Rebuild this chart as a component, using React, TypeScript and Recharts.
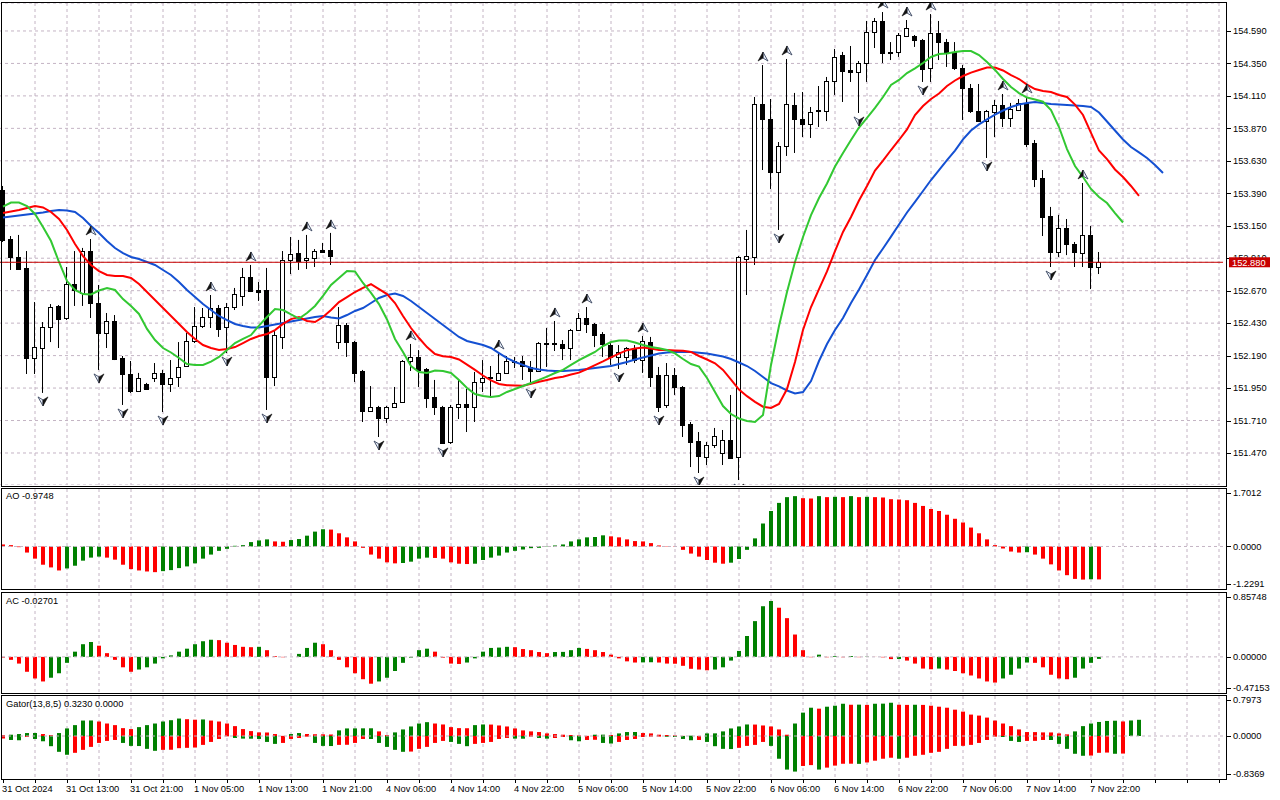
import React from 'react';
import { ComposedChart, Bar, Line, Scatter, XAxis, YAxis, CartesianGrid, ReferenceLine, Cell } from 'recharts';

// USDJPY H1 candles, 31 Oct 05:00 .. 7 Nov 23:00
const opens = [
  153.414, 153.052, 152.919, 152.838, 152.172, 152.246, 152.401, 152.557, 152.468, 152.719,
  152.653, 152.963, 152.579, 152.357, 152.446, 152.172, 152.054, 151.929, 151.980, 152.025,
  152.062, 151.980, 152.032, 152.113, 152.298, 152.409, 152.475, 152.542, 152.401, 152.549,
  152.631, 152.771, 152.675, 152.675, 152.032, 152.328, 152.897, 152.949, 152.897, 152.912,
  152.971, 152.971, 152.290, 152.416, 152.290, 152.076, 151.780, 151.810, 151.729, 151.810,
  151.847, 152.150, 152.180, 152.091, 151.884, 151.810, 151.551, 151.810, 151.832, 151.810,
  151.995, 152.025, 152.010, 152.062, 152.150, 152.150, 152.106, 152.076, 152.283, 152.283,
  152.276, 152.246, 152.379, 152.468, 152.424, 152.350, 152.268, 152.180, 152.180, 152.246,
  152.157, 152.290, 152.047, 151.825, 152.047, 151.958, 151.684, 151.559, 151.440, 151.529,
  151.470, 151.566, 151.440, 152.904, 152.919, 154.050, 153.939, 153.547, 153.739, 154.043,
  153.939, 153.902, 153.998, 153.998, 154.220, 154.412, 154.302, 154.287, 154.353, 154.582,
  154.664, 154.427, 154.435, 154.553, 154.553, 154.523, 154.316, 154.575, 154.508, 154.435,
  154.316, 154.168, 153.998, 153.924, 153.991, 154.043, 153.947, 154.006, 154.058, 153.762,
  153.503, 153.222, 152.956, 153.133, 153.015, 152.949, 153.082, 152.845,
];
const highs = [
  153.444, 153.074, 153.082, 152.963, 152.586, 152.438, 152.571, 152.564, 152.845, 152.963,
  152.986, 153.052, 152.712, 152.505, 152.490, 152.187, 152.150, 152.062, 151.988, 152.135,
  152.084, 152.157, 152.290, 152.357, 152.549, 152.542, 152.638, 152.564, 152.579, 152.690,
  152.838, 152.860, 152.734, 152.838, 152.372, 152.963, 153.067, 153.045, 153.082, 152.978,
  153.023, 153.097, 152.549, 152.431, 152.298, 152.084, 151.965, 151.818, 151.818, 151.958,
  152.157, 152.276, 152.231, 152.098, 152.010, 151.818, 151.825, 152.017, 151.943, 152.069,
  152.157, 152.113, 152.209, 152.187, 152.180, 152.187, 152.150, 152.290, 152.394, 152.446,
  152.305, 152.387, 152.505, 152.549, 152.431, 152.364, 152.290, 152.268, 152.253, 152.268,
  152.335, 152.328, 152.106, 152.135, 152.098, 151.965, 151.699, 151.625, 151.551, 151.655,
  151.640, 151.899, 152.926, 153.119, 154.102, 154.338, 154.087, 153.769, 154.383, 154.132,
  154.139, 154.028, 154.183, 154.250, 154.457, 154.435, 154.479, 154.368, 154.664, 154.686,
  154.730, 154.508, 154.575, 154.671, 154.560, 154.531, 154.715, 154.664, 154.531, 154.508,
  154.338, 154.198, 154.198, 154.006, 154.080, 154.124, 154.058, 154.087, 154.102, 153.784,
  153.562, 153.289, 153.230, 153.200, 153.030, 153.466, 153.148, 152.956,
];
const lows = [
  153.030, 152.823, 152.823, 152.054, 152.054, 151.914, 152.290, 152.246, 152.453, 152.557,
  152.557, 152.468, 152.084, 152.246, 152.157, 151.825, 151.914, 151.921, 151.936, 151.995,
  151.773, 151.921, 151.958, 152.106, 152.283, 152.394, 152.394, 152.328, 152.209, 152.527,
  152.557, 152.660, 152.594, 151.788, 151.965, 152.239, 152.793, 152.823, 152.830, 152.845,
  152.949, 152.860, 152.239, 152.180, 151.995, 151.699, 151.773, 151.588, 151.692, 151.803,
  151.840, 152.076, 151.958, 151.803, 151.751, 151.537, 151.537, 151.721, 151.625, 151.699,
  151.921, 151.877, 152.002, 152.054, 152.098, 152.010, 151.973, 152.069, 152.106, 152.224,
  152.157, 152.157, 152.372, 152.357, 152.253, 152.180, 152.121, 152.091, 152.121, 152.135,
  152.062, 151.958, 151.773, 151.803, 151.899, 151.588, 151.366, 151.322, 151.381, 151.507,
  151.381, 151.426, 151.270, 152.638, 152.860, 153.562, 153.422, 153.119, 153.666, 153.688,
  153.806, 153.799, 153.880, 153.924, 154.117, 154.065, 154.213, 153.984, 154.213, 154.464,
  154.353, 154.375, 154.398, 154.545, 154.472, 154.213, 154.213, 154.375, 154.324, 154.302,
  153.932, 153.984, 153.917, 153.651, 153.806, 153.880, 153.880, 153.998, 153.732, 153.436,
  153.074, 152.845, 152.919, 152.933, 152.845, 152.845, 152.682, 152.793,
];
const closes = [
  153.045, 152.919, 152.830, 152.172, 152.253, 152.401, 152.549, 152.460, 152.719, 152.675,
  152.963, 152.579, 152.357, 152.446, 152.165, 152.054, 151.929, 152.025, 151.943, 152.062,
  151.980, 152.025, 152.106, 152.298, 152.409, 152.475, 152.542, 152.387, 152.549, 152.645,
  152.771, 152.668, 152.660, 152.032, 152.342, 152.897, 152.941, 152.890, 152.912, 152.963,
  152.956, 152.926, 152.416, 152.290, 152.062, 151.780, 151.810, 151.729, 151.810, 151.840,
  152.150, 152.180, 152.084, 151.877, 151.810, 151.544, 151.810, 151.832, 151.810, 151.995,
  152.025, 152.032, 152.062, 152.150, 152.152, 152.113, 152.076, 152.283, 152.276, 152.276,
  152.246, 152.379, 152.468, 152.424, 152.342, 152.276, 152.180, 152.217, 152.246, 152.157,
  152.298, 152.032, 151.810, 152.047, 151.958, 151.677, 151.551, 151.448, 151.529, 151.596,
  151.566, 151.433, 152.919, 152.926, 154.050, 153.939, 153.547, 153.739, 154.050, 153.939,
  153.902, 153.991, 154.006, 154.220, 154.398, 154.294, 154.287, 154.353, 154.582, 154.664,
  154.427, 154.435, 154.560, 154.612, 154.523, 154.309, 154.575, 154.508, 154.435, 154.316,
  154.168, 153.998, 153.924, 153.998, 154.043, 153.947, 154.013, 154.058, 153.754, 153.496,
  153.215, 152.956, 153.133, 153.015, 152.956, 153.082, 152.845, 152.880,
];

// Alligator (13,8,5), already shifted forward
const jaw = [
  153.211, 153.218, 153.225, 153.233, 153.240, 153.248, 153.259, 153.266, 153.263, 153.252,
  153.207, 153.148, 153.096, 153.037, 152.985, 152.948, 152.919, 152.904, 152.882, 152.860,
  152.823, 152.786, 152.734, 152.675, 152.623, 152.571, 152.527, 152.483, 152.453, 152.424,
  152.409, 152.398, 152.398, 152.409, 152.420, 152.431, 152.442, 152.453, 152.464, 152.475,
  152.483, 152.472, 152.464, 152.490, 152.520, 152.542, 152.579, 152.616, 152.638, 152.649,
  152.631, 152.594, 152.549, 152.505, 152.461, 152.416, 152.372, 152.328, 152.298, 152.283,
  152.268, 152.246, 152.209, 152.172, 152.143, 152.121, 152.098, 152.087, 152.080, 152.076,
  152.076, 152.080, 152.084, 152.091, 152.098, 152.106, 152.113, 152.128, 152.143, 152.161,
  152.176, 152.191, 152.206, 152.213, 152.217, 152.219, 152.217, 152.211, 152.206, 152.195,
  152.183, 152.165, 152.139, 152.113, 152.076, 152.032, 151.987, 151.962, 151.932, 151.910,
  151.921, 152.002, 152.150, 152.276, 152.379, 152.468, 152.579, 152.679, 152.786, 152.897,
  152.982, 153.070, 153.159, 153.248, 153.326, 153.407, 153.488, 153.562, 153.636, 153.706,
  153.788, 153.854, 153.899, 153.936, 153.972, 154.002, 154.028, 154.046, 154.058, 154.065,
  154.058, 154.050, 154.046, 154.043, 154.039, 154.035, 154.028, 153.987, 153.921, 153.854,
  153.788, 153.732, 153.692, 153.651, 153.599, 153.540,
];
const teeth = [
  153.244, 153.255, 153.266, 153.281, 153.296, 153.285, 153.252, 153.200, 153.119, 153.015,
  152.926, 152.860, 152.815, 152.786, 152.779, 152.779, 152.764, 152.719, 152.660, 152.601,
  152.542, 152.483, 152.424, 152.364, 152.313, 152.268, 152.246, 152.231, 152.239, 152.253,
  152.283, 152.313, 152.335, 152.350, 152.379, 152.424, 152.460, 152.475, 152.446, 152.438,
  152.475, 152.527, 152.586, 152.623, 152.660, 152.690, 152.719, 152.682, 152.645, 152.579,
  152.483, 152.394, 152.320, 152.253, 152.202, 152.185, 152.180, 152.161, 152.123, 152.084,
  152.043, 152.006, 151.980, 151.971, 151.969, 151.968, 151.981, 151.996, 152.010, 152.025,
  152.034, 152.050, 152.064, 152.091, 152.119, 152.147, 152.177, 152.205, 152.230, 152.242,
  152.250, 152.242, 152.231, 152.231, 152.228, 152.225, 152.217, 152.187, 152.161, 152.133,
  152.084, 152.013, 151.939, 151.890, 151.848, 151.812, 151.803, 151.832, 151.943, 152.143,
  152.379, 152.549, 152.682, 152.812, 152.963, 153.104, 153.215, 153.337, 153.444, 153.558,
  153.632, 153.710, 153.784, 153.862, 153.969, 154.035, 154.087, 154.128, 154.183, 154.224,
  154.257, 154.282, 154.302, 154.320, 154.320, 154.298, 154.264, 154.235, 154.194, 154.161,
  154.146, 154.139, 154.117, 154.102, 154.046, 153.969, 153.836, 153.706, 153.643, 153.566,
  153.510, 153.444, 153.370,
];
const lips = [
  153.292, 153.322, 153.322, 153.296, 153.237, 153.141, 153.037, 152.882, 152.741, 152.675,
  152.645, 152.642, 152.671, 152.690, 152.675, 152.608, 152.557, 152.498, 152.387, 152.305,
  152.246, 152.213, 152.172, 152.128, 152.121, 152.121, 152.146, 152.180, 152.231, 152.283,
  152.313, 152.342, 152.412, 152.475, 152.534, 152.527, 152.494, 152.464, 152.505, 152.557,
  152.631, 152.712, 152.764, 152.815, 152.812, 152.727, 152.653, 152.571, 152.457, 152.313,
  152.217, 152.113, 152.069, 152.062, 152.080, 152.076, 152.062, 152.010, 151.951, 151.906,
  151.891, 151.884, 151.891, 151.921, 151.943, 151.965, 151.987, 152.010, 152.035, 152.061,
  152.084, 152.121, 152.157, 152.187, 152.217, 152.261, 152.290, 152.302, 152.302, 152.287,
  152.268, 152.253, 152.244, 152.231, 152.206, 152.165, 152.128, 152.109, 152.024, 151.921,
  151.817, 151.758, 151.725, 151.707, 151.699, 151.751, 152.121, 152.409, 152.660, 152.882,
  153.067, 153.229, 153.355, 153.462, 153.588, 153.688, 153.784, 153.876, 153.947, 154.021,
  154.102, 154.191, 154.228, 154.279, 154.313, 154.353, 154.398, 154.420, 154.424, 154.435,
  154.442, 154.442, 154.412, 154.361, 154.302, 154.235, 154.176, 154.131, 154.098, 154.083,
  154.067, 154.006, 153.880, 153.717, 153.592, 153.510, 153.422, 153.363, 153.318, 153.244,
  153.174,
];

// Bill Williams fractals (bar indexes)
const fractalUp = [11, 26, 31, 38, 41, 51, 62, 69, 73, 80, 95, 98, 110, 113, 116, 125, 128, 135];
const fractalDown = [5, 12, 15, 20, 28, 33, 47, 55, 66, 77, 82, 87, 92, 97, 107, 115, 123, 131];

const ao = [
  0.06, 0.04, -0.02, -0.18, -0.36, -0.54, -0.62, -0.71, -0.65, -0.57,
  -0.42, -0.33, -0.30, -0.33, -0.39, -0.54, -0.67, -0.71, -0.74, -0.76,
  -0.73, -0.70, -0.64, -0.59, -0.50, -0.36, -0.24, -0.13, -0.07, 0.02,
  0.04, 0.13, 0.18, 0.21, 0.15, 0.14, 0.19, 0.22, 0.32, 0.44,
  0.51, 0.50, 0.39, 0.27, 0.15, -0.04, -0.24, -0.36, -0.47, -0.50,
  -0.49, -0.45, -0.36, -0.33, -0.34, -0.36, -0.47, -0.51, -0.52, -0.51,
  -0.40, -0.33, -0.27, -0.18, -0.13, -0.09, -0.05, -0.04, -0.01, 0.03,
  0.06, 0.15, 0.21, 0.27, 0.28, 0.33, 0.30, 0.27, 0.21, 0.16,
  0.15, 0.10, 0.03, 0.01, -0.01, -0.10, -0.21, -0.30, -0.40, -0.48,
  -0.51, -0.48, -0.37, -0.10, 0.24, 0.68, 1.05, 1.29, 1.46, 1.49,
  1.43, 1.42, 1.49, 1.46, 1.47, 1.46, 1.49, 1.46, 1.47, 1.46,
  1.45, 1.40, 1.39, 1.37, 1.29, 1.20, 1.11, 1.05, 0.94, 0.82,
  0.71, 0.56, 0.39, 0.21, 0.04, -0.06, -0.15, -0.18, -0.17, -0.24,
  -0.36, -0.53, -0.71, -0.85, -0.96, -0.98, -0.97, -0.9748,
];
const ac = [
  -0.01, -0.04, -0.09, -0.20, -0.29, -0.33, -0.28, -0.22, -0.08, 0.07,
  0.17, 0.20, 0.15, 0.05, -0.04, -0.14, -0.20, -0.17, -0.14, -0.09,
  -0.02, 0.02, 0.07, 0.11, 0.17, 0.21, 0.23, 0.225, 0.19, 0.16,
  0.135, 0.13, 0.135, 0.09, 0.01, -0.005, 0.0, 0.04, 0.12, 0.19,
  0.17, 0.09, -0.04, -0.14, -0.22, -0.30, -0.36, -0.33, -0.28, -0.19,
  -0.08, -0.01, 0.09, 0.11, 0.07, -0.01, -0.09, -0.095, -0.076, -0.02,
  0.07, 0.12, 0.125, 0.135, 0.13, 0.105, 0.09, 0.065, 0.05, 0.065,
  0.067, 0.09, 0.12, 0.107, 0.09, 0.065, 0.03, -0.02, -0.06, -0.076,
  -0.074, -0.072, -0.076, -0.09, -0.092, -0.12, -0.16, -0.17, -0.18, -0.17,
  -0.14, -0.05, 0.08, 0.28, 0.48, 0.68, 0.75, 0.66, 0.52, 0.30,
  0.09, -0.005, 0.03, -0.005, 0.01, -0.005, 0.012, -0.004, 0.004, -0.001,
  -0.006, -0.03, -0.028, -0.05, -0.09, -0.157, -0.166, -0.157, -0.17, -0.19,
  -0.22, -0.25, -0.29, -0.33, -0.345, -0.29, -0.24, -0.157, -0.076, -0.08,
  -0.14, -0.24, -0.29, -0.30, -0.28, -0.157, -0.08, -0.02701,
];
const gatorUp = [
  0.02, 0.026, 0.039, 0.059, 0.06, 0.039, 0.02, 0.059, 0.151, 0.217,
  0.308, 0.31, 0.289, 0.249, 0.217, 0.157, 0.138, 0.177, 0.217, 0.249,
  0.289, 0.315, 0.348, 0.335, 0.325, 0.33, 0.308, 0.289, 0.249, 0.197,
  0.138, 0.098, 0.072, 0.07, 0.039, 0.003, 0.039, 0.059, 0.04, 0.035,
  0.033, 0.03, 0.112, 0.151, 0.152, 0.153, 0.154, 0.092, 0.02, 0.072,
  0.131, 0.19, 0.249, 0.276, 0.249, 0.23, 0.177, 0.157, 0.155, 0.217,
  0.23, 0.228, 0.21, 0.19, 0.151, 0.112, 0.092, 0.079, 0.052, 0.039,
  0.026, 0.02, 0.013, 0.003, 0.026, 0.027, 0.02, 0.052, 0.079, 0.08,
  0.059, 0.052, 0.026, 0.02, 0.013, 0.003, 0.007, 0.002, 0.052, 0.053,
  0.092, 0.151, 0.19, 0.23, 0.228, 0.21, 0.19, 0.131, 0.026, 0.249,
  0.466, 0.564, 0.545, 0.584, 0.604, 0.643, 0.623, 0.625, 0.62, 0.643,
  0.645, 0.663, 0.623, 0.62, 0.623, 0.62, 0.604, 0.584, 0.564, 0.525,
  0.486, 0.427, 0.407, 0.367, 0.308, 0.249, 0.197, 0.131, 0.079, 0.078,
  0.072, 0.071, 0.052, 0.033, 0.092, 0.197, 0.249, 0.28, 0.30, 0.305,
  0.29, 0.31, 0.323,
];
const gatorDown = [
  -0.05, -0.079, -0.085, -0.02, -0.059, -0.105, -0.203, -0.315, -0.374, -0.335,
  -0.276, -0.217, -0.138, -0.098, -0.079, -0.138, -0.197, -0.2, -0.256, -0.295,
  -0.276, -0.274, -0.243, -0.236, -0.23, -0.177, -0.118, -0.059, -0.007, -0.039,
  -0.052, -0.054, -0.059, -0.118, -0.157, -0.138, -0.059, -0.039, -0.013, -0.138,
  -0.197, -0.2, -0.177, -0.175, -0.138, -0.059, -0.06, -0.138, -0.217, -0.276,
  -0.315, -0.31, -0.256, -0.217, -0.138, -0.098, -0.118, -0.157, -0.203, -0.157,
  -0.138, -0.118, -0.059, -0.039, -0.052, -0.054, -0.013, -0.039, -0.052, -0.04,
  -0.02, -0.085, -0.105, -0.079, -0.075, -0.138, -0.15, -0.118, -0.079, -0.059,
  -0.02, -0.013, -0.012, -0.015, -0.02, -0.059, -0.085, -0.079, -0.118, -0.203,
  -0.256, -0.26, -0.236, -0.197, -0.177, -0.118, -0.197, -0.453, -0.669, -0.709,
  -0.597, -0.58, -0.669, -0.63, -0.59, -0.553, -0.552, -0.555, -0.527, -0.492,
  -0.453, -0.433, -0.453, -0.433, -0.394, -0.374, -0.335, -0.315, -0.256, -0.197,
  -0.196, -0.177, -0.138, -0.079, -0.013, -0.02, -0.098, -0.118, -0.098, -0.097,
  -0.079, -0.08, -0.157, -0.256, -0.354, -0.394, -0.39, -0.335, -0.33, -0.354,
  -0.35,
];

// one label every 8 bars, starting at bar 0
const timeLabels = [
  '31 Oct 2024', '31 Oct 13:00', '31 Oct 21:00', '1 Nov 05:00', '1 Nov 13:00', '1 Nov 21:00',
  '4 Nov 06:00', '4 Nov 14:00', '4 Nov 22:00', '5 Nov 06:00', '5 Nov 14:00', '5 Nov 22:00',
  '6 Nov 06:00', '6 Nov 14:00', '6 Nov 22:00', '7 Nov 06:00', '7 Nov 14:00', '7 Nov 22:00',
];
const priceTicks = [
  151.47, 151.71, 151.95, 152.19, 152.43, 152.67, 152.91, 153.15, 153.39, 153.63, 153.87, 154.11, 154.35, 154.59,
];

const SLOTS = 153; // bars + empty space on the right
const LAST = closes[closes.length - 1];
const FONT = '"Liberation Sans", Arial, sans-serif';
const FS = 9.3;
const GRID = '#c4b4c4';
const GREEN = '#008000';
const RED = '#ff0000';

const rows = Array.from({ length: SLOTS }, (_, i) => ({
  i,
  range: i < opens.length ? [lows[i], highs[i]] : undefined,
  open: opens[i],
  high: highs[i],
  low: lows[i],
  close: closes[i],
  jaw: jaw[i],
  teeth: teeth[i],
  lips: lips[i],
  fu: fractalUp.includes(i) ? highs[i] : undefined,
  fd: fractalDown.includes(i) ? lows[i] : undefined,
  ao: ao[i],
  ac: ac[i],
  gu: gatorUp[i],
  gd: gatorDown[i],
}));

const gridIdx = Array.from({ length: 38 }, (_, k) => 4 + 4 * k);
const xTicks = [0, ...gridIdx];

const upDown = (arr: number[], i: number) => (i > 0 && arr[i] != null && arr[i] > arr[i - 1] ? GREEN : RED);
const absUpDown = (arr: number[], i: number) =>
  i > 0 && arr[i] != null && Math.abs(arr[i]) > Math.abs(arr[i - 1]) ? GREEN : RED;

// vertical grid every 4 bars, placed at band centres of the plot area
const vGridGen = (props: any) => {
  const left = props?.offset?.left ?? 0;
  const w = props?.offset?.width ?? 1224;
  return gridIdx.map((i) => left + ((i + 0.5) * w) / SLOTS);
};

const Candle = (props: any) => {
  const { x, y, width, height, payload } = props;
  if (!payload || payload.open == null) return <g />;
  const top = Math.min(y, y + height);
  const h = Math.abs(height);
  const span = payload.high - payload.low || 1;
  const py = (v: number) => top + ((payload.high - v) / span) * h;
  const cx = Math.floor(x + width / 2) + 0.5;
  const yo = py(payload.open);
  const yc = py(payload.close);
  const bull = payload.close >= payload.open;
  const bt = Math.round(Math.min(yo, yc)) + 0.5;
  const bb = Math.round(Math.max(yo, yc)) + 0.5;
  return (
    <g>
      <line x1={cx} x2={cx} y1={top} y2={top + h} stroke="#000" strokeWidth={1} />
      <rect x={cx - 2} y={bt} width={4} height={Math.max(bb - bt, 1)} fill={bull ? '#fff' : '#000'} stroke="#000" strokeWidth={1} />
    </g>
  );
};

const FractalUp = (props: any) => {
  const { cx, cy } = props;
  if (cx == null || cy == null || isNaN(cy)) return <g />;
  const b = cy - 4;
  const t = b - 9;
  return (
    <g>
      <path d={`M${cx} ${t} L${cx + 5} ${b} L${cx} ${b - 3} Z`} fill="#e8eef8" stroke="#3a4660" strokeWidth={0.9} />
      <path d={`M${cx} ${t} L${cx} ${b - 3} L${cx - 5} ${b} Z`} fill="#111" stroke="#111" strokeWidth={0.6} />
    </g>
  );
};

const FractalDown = (props: any) => {
  const { cx, cy } = props;
  if (cx == null || cy == null || isNaN(cy)) return <g />;
  const b = cy + 4;
  const t = b + 9;
  return (
    <g>
      <path d={`M${cx} ${t} L${cx - 5} ${b} L${cx} ${b + 3} Z`} fill="#e8eef8" stroke="#3a4660" strokeWidth={0.9} />
      <path d={`M${cx} ${t} L${cx} ${b + 3} L${cx + 5} ${b} Z`} fill="#111" stroke="#111" strokeWidth={0.6} />
    </g>
  );
};

const PriceTick = (props: any) => {
  const { x, y, payload } = props;
  const v = payload.value;
  if (v === LAST) {
    return (
      <g>
        <rect x={x + 6} y={y - 5} width={41} height={10} fill="#c80000" />
        <text x={x + 9} y={y} dy="0.35em" fill="#fff" fontSize={FS} fontFamily={FONT}>
          {v.toFixed(3)}
        </text>
      </g>
    );
  }
  const ly = Math.round(y) + 0.5;
  return (
    <g>
      <line x1={x + 4} x2={x + 8} y1={ly} y2={ly} stroke="#000" />
      <text x={x + 10} y={y} dy="0.35em" fill="#000" fontSize={FS} fontFamily={FONT}>
        {v.toFixed(3)}
      </text>
    </g>
  );
};

const IndTick = (props: any) => {
  const { x, y, payload, dec, lo, hi } = props;
  const v = payload.value;
  const yy = v === hi ? y + 4 : v === lo ? y - 4 : y;
  const ly = Math.round(yy) + 0.5;
  return (
    <g>
      <line x1={x + 4} x2={x + 8} y1={ly} y2={ly} stroke="#000" />
      <text x={x + 10} y={yy} dy="0.35em" fill="#000" fontSize={FS} fontFamily={FONT}>
        {v.toFixed(dec)}
      </text>
    </g>
  );
};

const TimeTick = (props: any) => {
  const { x, y, payload } = props;
  const i = payload.value;
  const px = Math.round(x) + 0.5;
  const label = i % 8 === 0 ? timeLabels[i / 8] : undefined;
  return (
    <g>
      <line x1={px} x2={px} y1={y + 1} y2={y + 5} stroke="#000" />
      {label && (
        <text x={x - 1} y={y + 14} fill="#000" fontSize={FS} fontFamily={FONT}>
          {label}
        </text>
      )}
    </g>
  );
};

const panelBox = (top: number, height: number): React.CSSProperties => ({
  position: 'absolute',
  left: 1,
  top,
  width: 1226,
  height,
  border: '1px solid #000',
  boxSizing: 'border-box',
  pointerEvents: 'none',
});

const caption = (top: number): React.CSSProperties => ({
  position: 'absolute',
  left: 6,
  top,
  fontFamily: FONT,
  fontSize: FS,
  color: '#000',
  whiteSpace: 'nowrap',
});

const MAIN_TOP = 3;
const MAIN_H = 482;
const PX_PER_PRICE = 135.26;
const PRICE_AT_0 = 154.819;
const mainDomain = [PRICE_AT_0 - (MAIN_TOP + MAIN_H) / PX_PER_PRICE, PRICE_AT_0 - MAIN_TOP / PX_PER_PRICE];

export default function App() {
  const noMargin = { top: 0, right: 0, bottom: 0, left: 0 };
  const lastUp = gatorUp[gatorUp.length - 1];
  return (
    <div style={{ position: 'absolute', left: 0, top: 0, width: 1280, height: 800, background: '#fff', overflow: 'hidden' }}>
      {/* price panel */}
      <div style={{ position: 'absolute', left: -1, top: MAIN_TOP }}>
        <ComposedChart width={1280} height={MAIN_H} data={rows} margin={noMargin}>
          <XAxis dataKey="i" type="category" hide />
          <YAxis
            orientation="right"
            width={56}
            type="number"
            domain={mainDomain}
            allowDataOverflow
            ticks={[...priceTicks, LAST]}
            interval={0}
            tick={<PriceTick />}
            axisLine={false}
            tickLine={false}
            tickSize={0}
            tickMargin={0}
          />
          <CartesianGrid stroke={GRID} strokeDasharray="3 3" verticalCoordinatesGenerator={vGridGen} />
          <Bar dataKey="range" shape={<Candle />} isAnimationActive={false} />
          <Line dataKey="jaw" stroke="#1450d2" strokeWidth={2} dot={false} activeDot={false} isAnimationActive={false} />
          <Line dataKey="teeth" stroke="#ff0000" strokeWidth={2} dot={false} activeDot={false} isAnimationActive={false} />
          <Line dataKey="lips" stroke="#32c832" strokeWidth={2} dot={false} activeDot={false} isAnimationActive={false} />
          <Scatter dataKey="fu" shape={<FractalUp />} isAnimationActive={false} />
          <Scatter dataKey="fd" shape={<FractalDown />} isAnimationActive={false} />
          <ReferenceLine y={LAST} stroke="#c80000" strokeWidth={1} />
        </ComposedChart>
      </div>

      {/* AO */}
      <div style={{ position: 'absolute', left: -1, top: 489 }}>
        <ComposedChart width={1280} height={99} data={rows} margin={noMargin}>
          <XAxis dataKey="i" type="category" hide />
          <YAxis
            orientation="right"
            width={56}
            type="number"
            domain={[-1.2291, 1.7012]}
            allowDataOverflow
            ticks={[-1.2291, 0, 1.7012]}
            interval={0}
            tick={<IndTick dec={4} lo={-1.2291} hi={1.7012} />}
            axisLine={false}
            tickLine={false}
            tickSize={0}
            tickMargin={0}
          />
          <CartesianGrid horizontal={false} stroke={GRID} strokeDasharray="3 3" verticalCoordinatesGenerator={vGridGen} />
          <ReferenceLine y={0} stroke={GRID} strokeDasharray="3 3" />
          <Bar dataKey="ao" barSize={4} isAnimationActive={false}>
            {rows.map((r) => (
              <Cell key={r.i} fill={upDown(ao, r.i)} />
            ))}
          </Bar>
        </ComposedChart>
      </div>

      {/* AC */}
      <div style={{ position: 'absolute', left: -1, top: 593 }}>
        <ComposedChart width={1280} height={99} data={rows} margin={noMargin}>
          <XAxis dataKey="i" type="category" hide />
          <YAxis
            orientation="right"
            width={56}
            type="number"
            domain={[-0.47153, 0.85748]}
            allowDataOverflow
            ticks={[-0.47153, 0, 0.85748]}
            interval={0}
            tick={<IndTick dec={5} lo={-0.47153} hi={0.85748} />}
            axisLine={false}
            tickLine={false}
            tickSize={0}
            tickMargin={0}
          />
          <CartesianGrid horizontal={false} stroke={GRID} strokeDasharray="3 3" verticalCoordinatesGenerator={vGridGen} />
          <ReferenceLine y={0} stroke={GRID} strokeDasharray="3 3" />
          <Bar dataKey="ac" barSize={4} isAnimationActive={false}>
            {rows.map((r) => (
              <Cell key={r.i} fill={upDown(ac, r.i)} />
            ))}
          </Bar>
        </ComposedChart>
      </div>

      {/* Gator */}
      <div style={{ position: 'absolute', left: -1, top: 696 }}>
        <ComposedChart width={1280} height={104} data={rows} margin={noMargin} stackOffset="sign">
          <XAxis
            dataKey="i"
            type="category"
            height={22}
            ticks={xTicks}
            interval={0}
            tick={<TimeTick />}
            axisLine={false}
            tickLine={false}
            tickSize={0}
            tickMargin={0}
          />
          <YAxis
            orientation="right"
            width={56}
            type="number"
            domain={[-0.8369, 0.7973]}
            allowDataOverflow
            ticks={[-0.8369, 0, 0.7973]}
            interval={0}
            tick={<IndTick dec={4} lo={-0.8369} hi={0.7973} />}
            axisLine={false}
            tickLine={false}
            tickSize={0}
            tickMargin={0}
          />
          <CartesianGrid horizontal={false} stroke={GRID} strokeDasharray="3 3" verticalCoordinatesGenerator={vGridGen} />
          <ReferenceLine y={0} stroke={GRID} strokeDasharray="3 3" />
          <Bar dataKey="gu" stackId="g" barSize={4} isAnimationActive={false}>
            {rows.map((r) => (
              <Cell key={r.i} fill={upDown(gatorUp, r.i)} />
            ))}
          </Bar>
          <Bar dataKey="gd" stackId="g" barSize={4} isAnimationActive={false}>
            {rows.map((r) => (
              <Cell key={r.i} fill={absUpDown(gatorDown, r.i)} />
            ))}
          </Bar>
        </ComposedChart>
      </div>

      {/* panel frames */}
      <div style={panelBox(2, 485)} />
      <div style={panelBox(488, 102)} />
      <div style={panelBox(592, 102)} />
      <div style={panelBox(695, 85)} />

      <div style={caption(491)}>AO {ao[ao.length - 1].toFixed(4)}</div>
      <div style={caption(596)}>AC {ac[ac.length - 1].toFixed(5)}</div>
      <div style={caption(699)}>
        Gator(13,8,5) {lastUp.toFixed(4)} {(0).toFixed(4)}
      </div>
    </div>
  );
}
